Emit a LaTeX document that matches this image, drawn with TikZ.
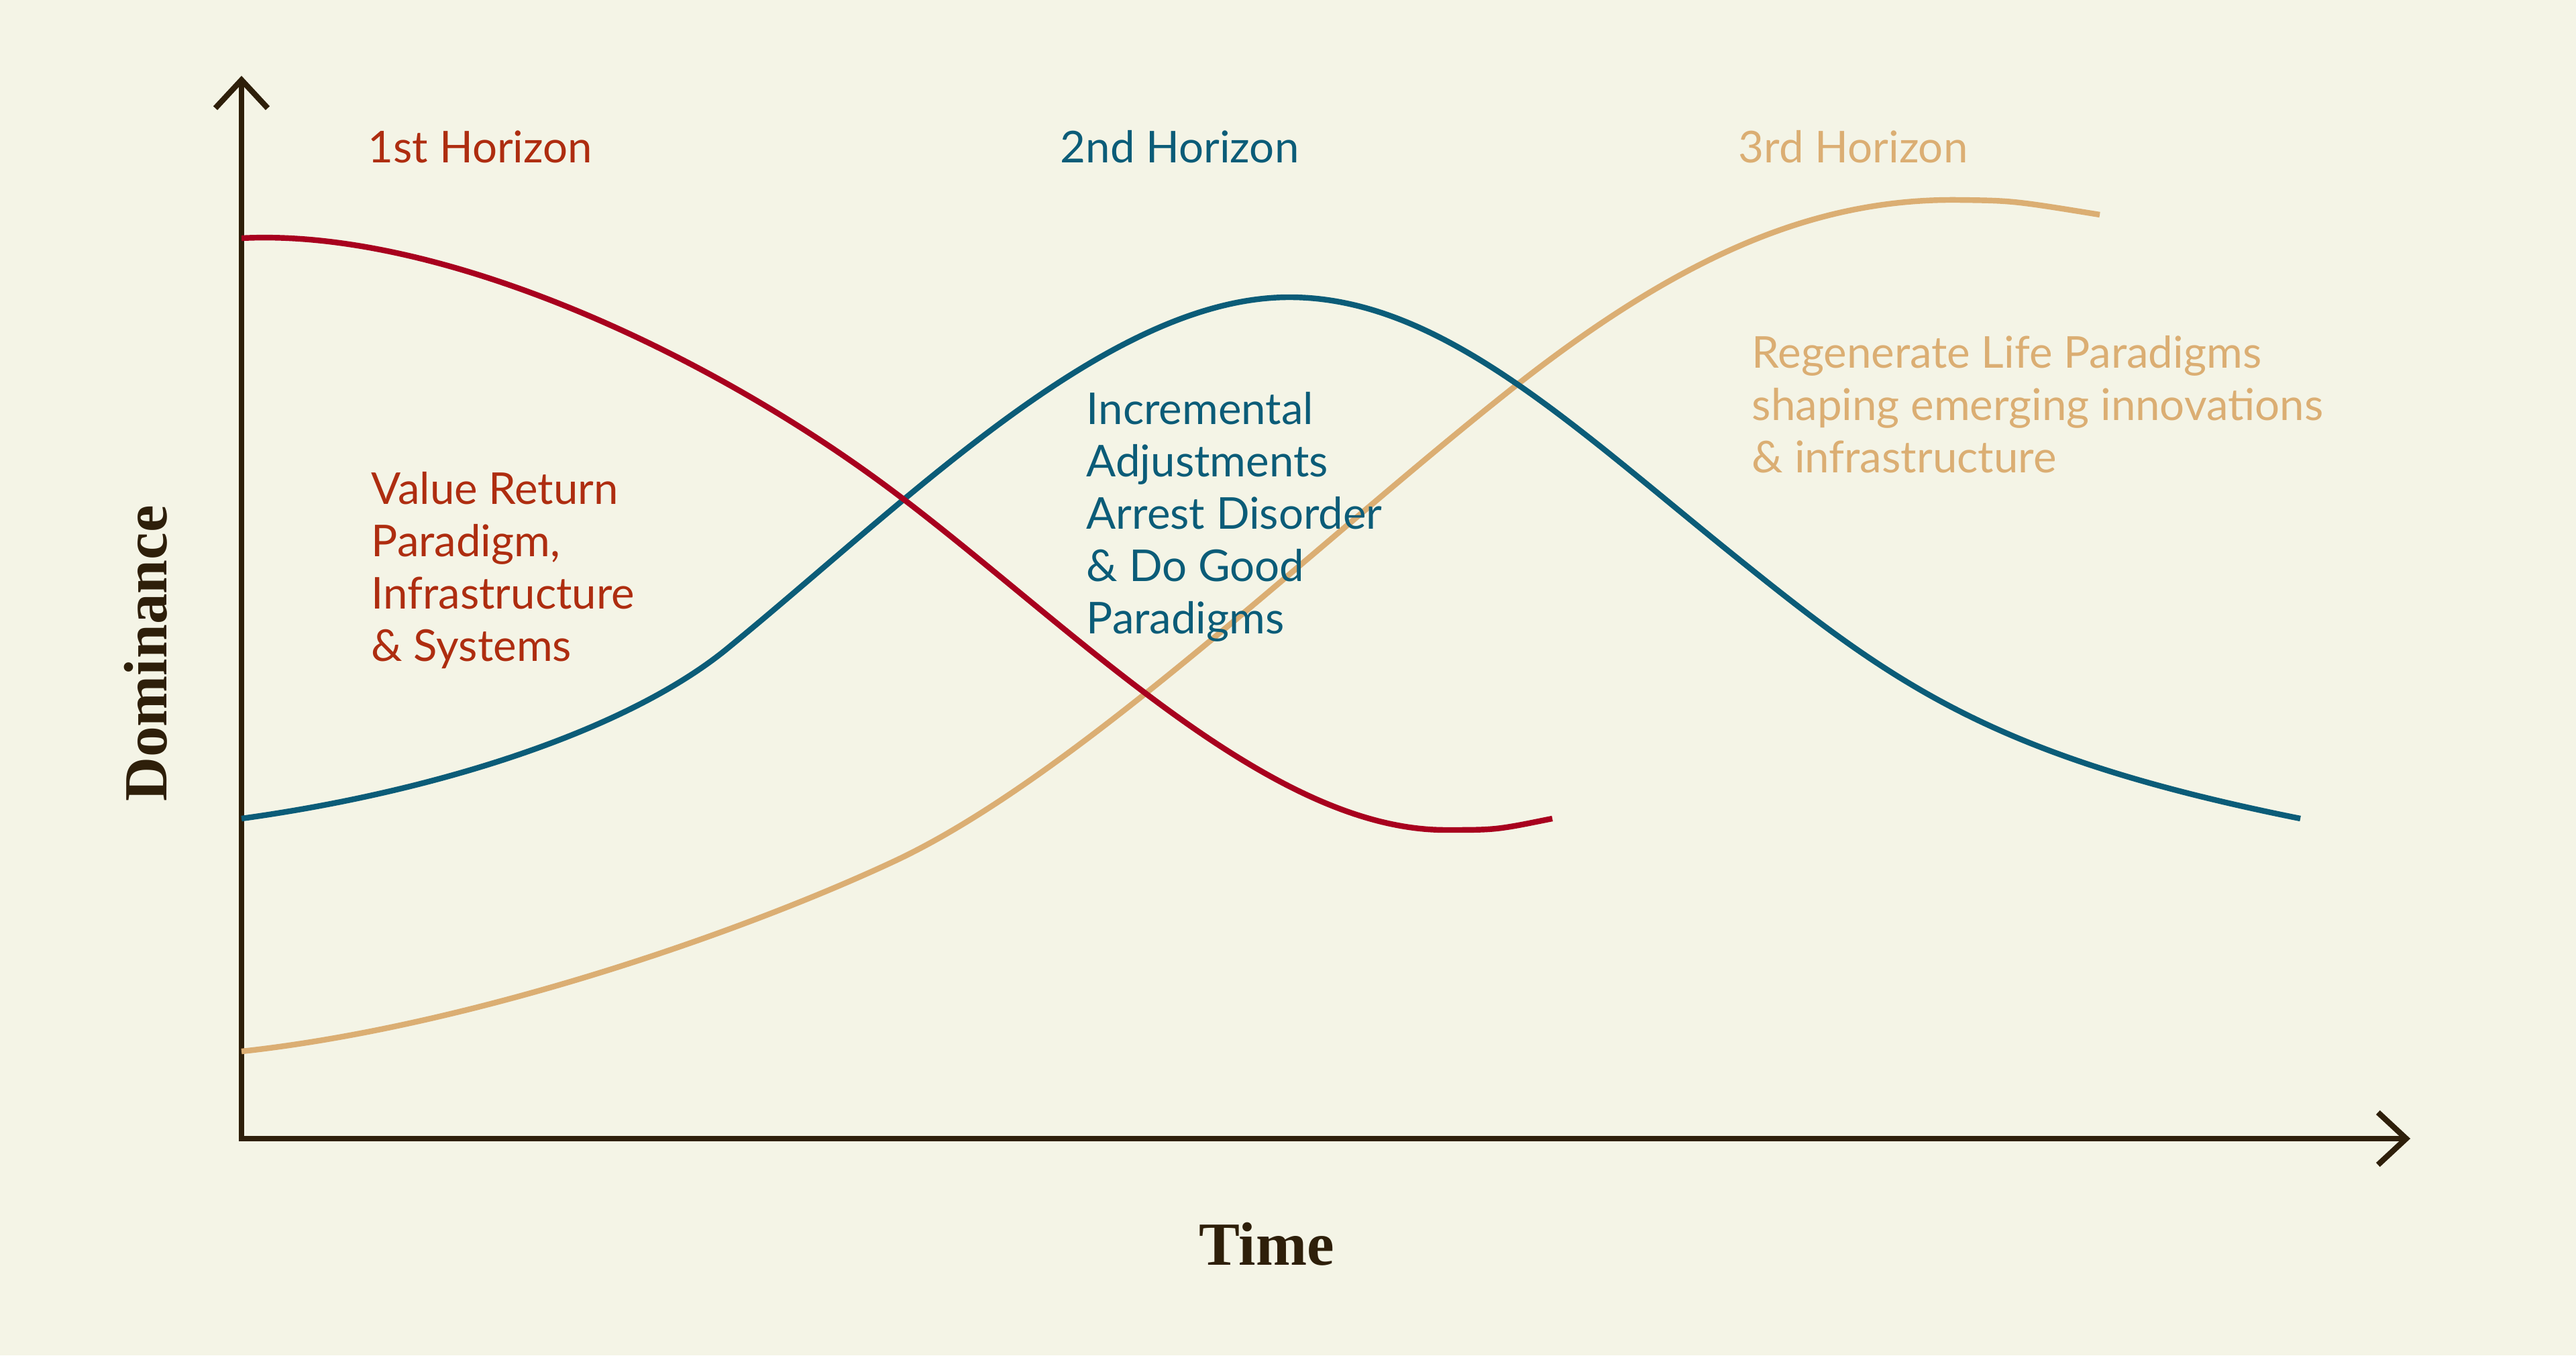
\documentclass[tikz,border=0pt]{standalone}
\usepackage{fontspec}
\setmainfont{Lato}
\newfontfamily\axisfont{Liberation Serif}
\usetikzlibrary{arrows.meta}
\definecolor{paper}{HTML}{F4F4E6}
\definecolor{ink}{HTML}{2E1F0A}
\definecolor{firstline}{HTML}{A8001E}
\definecolor{firsttext}{HTML}{AE2D10}
\definecolor{teal}{HTML}{0B5C78}
\definecolor{sand}{HTML}{DBAE73}
\tikzset{
  curve/.style={line width=2.4pt},
  axisline/.style={line width=2.4pt,draw=ink},
  barb/.tip={Straight Barb[length=0.42cm,width=0.78cm]},
  horizon/.style={font=\fontsize{18.6}{22.2}\selectfont,anchor=base west,inner sep=0pt},
  note/.style={horizon,align=left,anchor=north west},
  axislabel/.style={font=\axisfont\bfseries\fontsize{26}{30}\selectfont,text=ink,inner sep=0pt,anchor=base}
}
\begin{document}
\begin{tikzpicture}[x=1cm,y=1cm]
  \fill[paper] (0,0) rectangle (38.40,20.20);
  \useasboundingbox (0,0) rectangle (38.40,20.20);

  % axes
  \coordinate (origin) at (3.60,3.23);
  \coordinate (ytip) at (3.60,19.07);
  \coordinate (xtip) at (35.93,3.23);
  \draw[axisline,barb-barb] (ytip) -- (origin) -- (xtip);
  \node[axislabel] (time) at (18.88,1.35) {Time};
  \node[axislabel,rotate=90] (dominance) at (2.48,10.46) {Dominance};

  % horizon curves
  \draw[curve,draw=sand] (3.60,4.53) .. controls (7.00,4.90) and (11.00,6.28) .. (13.30,7.35)
    .. controls (16.00,8.60) and (19.50,12.00) .. (22.53,14.40)
    .. controls (25.00,16.35) and (27.00,17.24) .. (29.18,17.22)
    .. controls (30.00,17.21) .. (31.30,17.00);
  \draw[curve,draw=teal] (3.60,8.00) .. controls (6.50,8.40) and (9.30,9.30) .. (10.80,10.50)
    .. controls (13.50,12.70) and (16.50,15.77) .. (19.22,15.77)
    .. controls (21.50,15.77) and (23.50,13.80) .. (26.00,11.80)
    .. controls (28.30,9.95) and (29.80,8.90) .. (34.29,8.00);
  \draw[curve,draw=firstline] (3.60,16.65) .. controls (6.50,16.80) and (10.50,15.00) .. (13.35,12.85)
    .. controls (16.00,10.85) and (18.90,7.83) .. (21.55,7.83)
    .. controls (22.30,7.83) .. (23.14,8.00);

  % labels
  \node[horizon,text=firsttext] (h1) at (5.48,17.77) {1st Horizon};
  \node[horizon,text=teal] (h2) at (15.80,17.77) {2nd Horizon};
  \node[horizon,text=sand] (h3) at (25.91,17.77) {3rd Horizon};

  \node[note,text=firsttext] (h1note) at (5.53,13.17) {Value Return\\Paradigm,\\Infrastructure\\\& Systems};
  \node[note,text=teal] (h2note) at (16.19,14.36) {Incremental\\Adjustments\\Arrest Disorder\\\& Do Good\\Paradigms};
  \node[note,text=sand] (h3note) at (26.11,15.20) {Regenerate Life Paradigms\\shaping emerging innovations\\\& infrastructure};
\end{tikzpicture}
\end{document}
